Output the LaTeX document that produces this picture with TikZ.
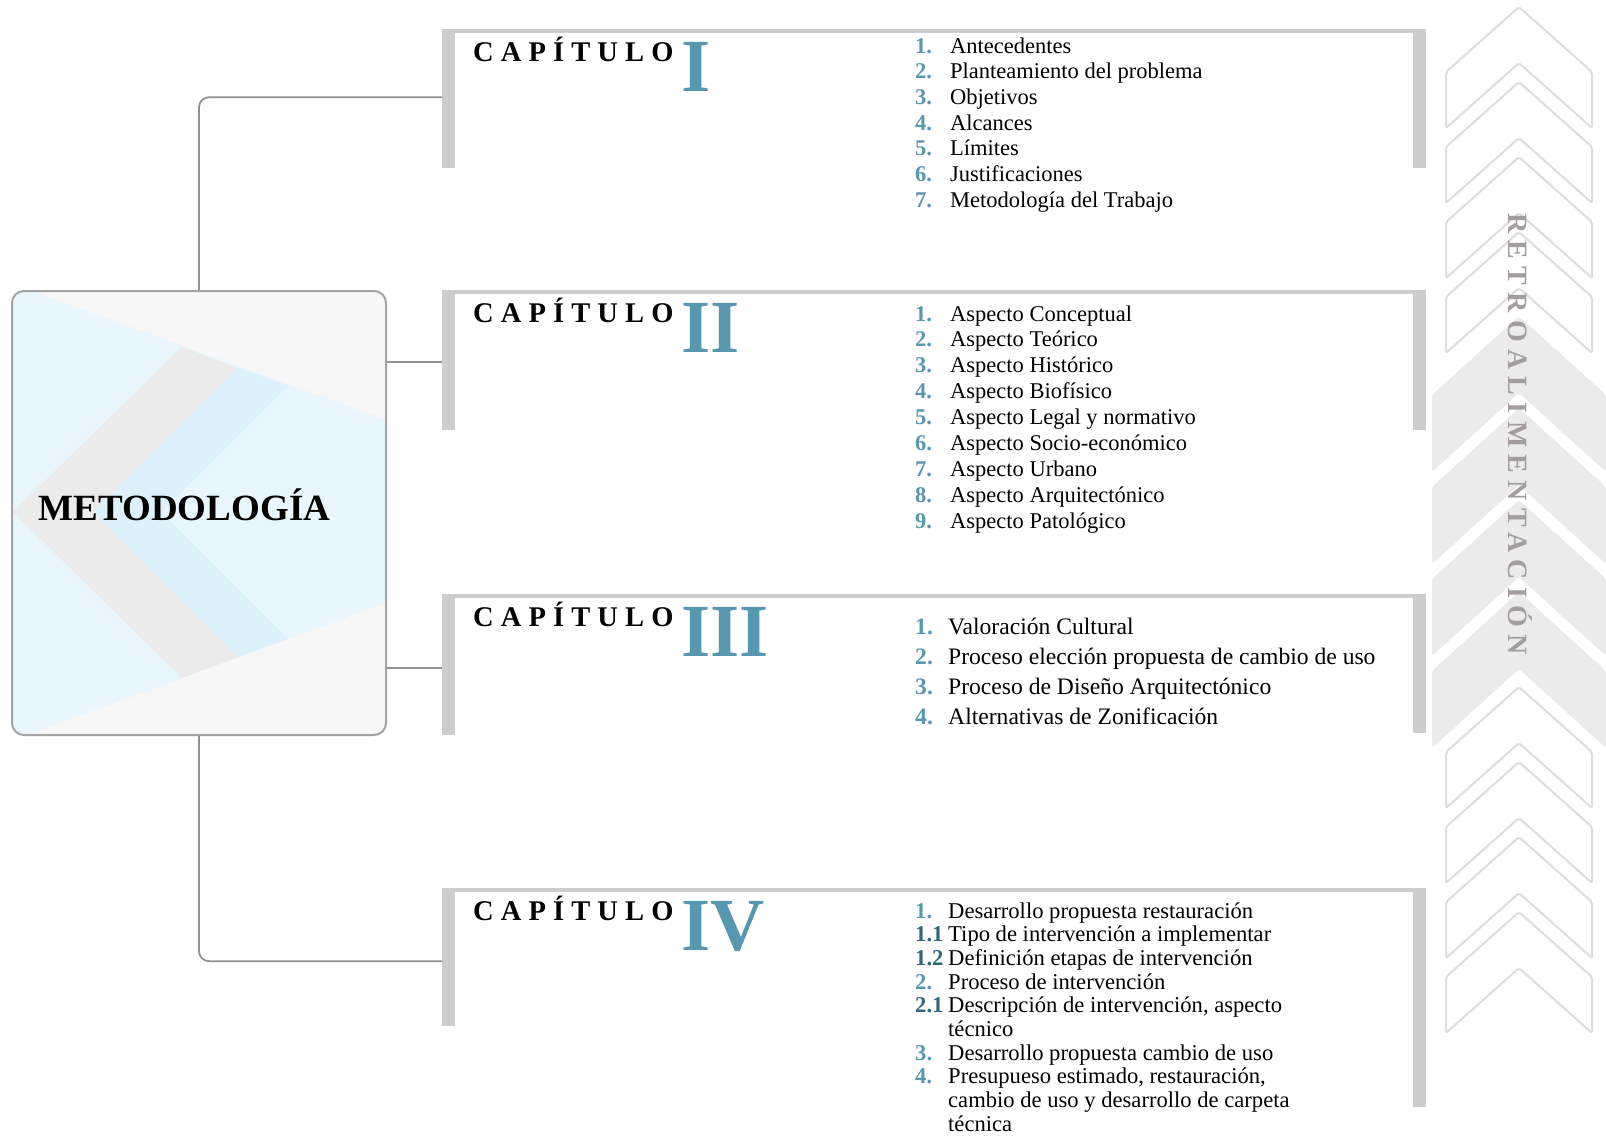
\documentclass[tikz,border=0pt]{standalone}
\usepackage{fontspec}
\setmainfont{Liberation Serif}
\newfontfamily\capfont[LetterSpace=25]{Liberation Serif}
\newfontfamily\retrofont[LetterSpace=26]{Liberation Serif}

\definecolor{turquesa}{HTML}{5797AF}
\definecolor{turquesaosc}{HTML}{2F6678}
\definecolor{barragris}{HTML}{CDCDCD}
\definecolor{lineagris}{HTML}{919191}
\definecolor{bordecaja}{HTML}{A3A3A3}
\definecolor{fondo}{HTML}{F7F7F7}
\definecolor{celeste}{HTML}{EAF6FD}
\definecolor{celestebanda}{HTML}{DCF1FA}
\definecolor{grisbanda}{HTML}{EBEBEB}
\definecolor{flechalinea}{HTML}{DDDDDD}
\definecolor{flechallena}{HTML}{EBEBEB}
\definecolor{retro}{HTML}{A39D9D}

\newcommand{\nro}[1]{\textbf{\color{turquesa}#1}}
\newcommand{\subnro}[1]{\textbf{\color{turquesaosc}#1}}

\begin{document}
\begin{tikzpicture}[x=1pt,y=-1pt,
    conector/.style={draw=lineagris,line width=1.8pt},
    barra/.style={fill=barragris,minimum width=13pt,inner sep=0pt},
    titulo/.style={inner sep=0pt,font=\capfont\bfseries\fontsize{28.5}{30}\selectfont},
    romano/.style={inner sep=0pt,text=turquesa,font=\bfseries\fontsize{75}{75}\selectfont},
    lista/.style={inner sep=0pt,anchor=base west}]
  \useasboundingbox (0,0) rectangle (1606,1135);

  \begin{scope}
    \clip[rounded corners=12pt] (12,291) rectangle (386,735);
    \fill[fondo] (12,291) rectangle (386,735);
    \fill[celeste] (12,291) -- (32,291) -- (386,420) -- (386,603) -- (27,735) -- (12,735) -- cycle;
    \fill[grisbanda] (13,512) -- (182,347) -- (238,368) -- (93,512) -- (238,657) -- (182,678) -- cycle;
    \fill[celestebanda] (93,512) -- (238,368) -- (288,386) -- (161,512) -- (288,639) -- (238,657) -- cycle;
  \end{scope}
  \node[draw=bordecaja,line width=2pt,rounded corners=12pt,minimum width=374pt,minimum height=444pt,inner sep=0pt] (meto) at (199,513) {};
  \node[inner sep=0pt,anchor=base,font=\bfseries\fontsize{37}{37}\selectfont] (tmeto) at (184.5,520) {METODOLOGÍA};

  \foreach \a in {7,82,157,232,687,762,837,912}
    \draw[flechalinea,line width=2pt,rounded corners=2pt] (1519,\a) -- (1592,\a+65) -- (1592,\a+121) -- (1519,\a+56) -- (1446,\a+121) -- (1446,\a+65) -- cycle;
  \foreach \a in {316,408,500,592}
    \fill[flechallena,rounded corners=3pt] (1519,\a) -- (1606,\a+79) -- (1606,\a+156) -- (1519,\a+77) -- (1432,\a+156) -- (1432,\a+79) -- cycle;
  \node[inner sep=0pt,rotate=-90,anchor=base,text=retro,font=\retrofont\bfseries\fontsize{28}{28}\selectfont] (retro) at (1508,434) {RETROALIMENTACIÓN};

  \foreach \n/\t/\bi/\bd/\rom in {1/30/168/168/I,2/291/430/430/II,3/595/735/733/III,4/889/1026/1107/IV}{
    \fill[barragris] (442,\t-1.5) rectangle (1426,\t+2.5);
    \node[barra,minimum height=\bi-\t,anchor=north west] (cap\n) at (442,\t) {};
    \fill[barragris] (1413,\t-1.5) rectangle (1426,\bd);
    \node[titulo,anchor=base west] (tit\n) at (473,\t+31) {CAPÍTULO};
    \node[romano,anchor=base west] (rom\n) at (681,\t+61) {\rom};
  }

  \draw[conector,rounded corners=10pt] (meto.north) |- ([yshift=2pt]cap1.west);
  \draw[conector] ([yshift=-1.5pt]cap2.west -| meto.east) -- ([yshift=-1.5pt]cap2.west);
  \draw[conector] ([yshift=-3pt]cap3.west -| meto.east) -- ([yshift=-3pt]cap3.west);
  \draw[conector,rounded corners=10pt] (meto.south) |- ([yshift=-3.5pt]cap4.west);

  \node[lista] (lis1) at (915,53) {\fontsize{22.5}{25.7}\selectfont
    \begin{tabular}[t]{@{}p{35pt}@{}l@{}}
      \nro{1.} & Antecedentes\\
      \nro{2.} & Planteamiento del problema\\
      \nro{3.} & Objetivos\\
      \nro{4.} & Alcances\\
      \nro{5.} & Límites\\
      \nro{6.} & Justificaciones\\
      \nro{7.} & Metodología del Trabajo
    \end{tabular}};
  \node[lista] (lis2) at (915,321) {\fontsize{22.5}{25.9}\selectfont
    \begin{tabular}[t]{@{}p{35pt}@{}l@{}}
      \nro{1.} & Aspecto Conceptual\\
      \nro{2.} & Aspecto Teórico\\
      \nro{3.} & Aspecto Histórico\\
      \nro{4.} & Aspecto Biofísico\\
      \nro{5.} & Aspecto Legal y normativo\\
      \nro{6.} & Aspecto Socio-económico\\
      \nro{7.} & Aspecto Urbano\\
      \nro{8.} & Aspecto Arquitectónico\\
      \nro{9.} & Aspecto Patológico
    \end{tabular}};
  \node[lista] (lis3) at (915,634) {\fontsize{23.6}{30}\selectfont
    \begin{tabular}[t]{@{}p{33pt}@{}l@{}}
      \nro{1.} & Valoración Cultural\\
      \nro{2.} & Proceso elección propuesta de cambio de uso\\
      \nro{3.} & Proceso de Diseño Arquitectónico\\
      \nro{4.} & Alternativas de Zonificación
    \end{tabular}};
  \node[lista] (lis4) at (915,918) {\fontsize{22.6}{23.7}\selectfont
    \begin{tabular}[t]{@{}p{33pt}@{}l@{}}
      \nro{1.} & Desarrollo propuesta restauración\\
      \subnro{1.1} & Tipo de intervención a implementar\\
      \subnro{1.2} & Definición etapas de intervención\\
      \nro{2.} & Proceso de intervención\\
      \subnro{2.1} & Descripción de intervención, aspecto\\
       & técnico\\
      \nro{3.} & Desarrollo propuesta cambio de uso\\
      \nro{4.} & Presupueso estimado, restauración,\\
       & cambio de uso y desarrollo de carpeta\\
       & técnica
    \end{tabular}};
\end{tikzpicture}
\end{document}
